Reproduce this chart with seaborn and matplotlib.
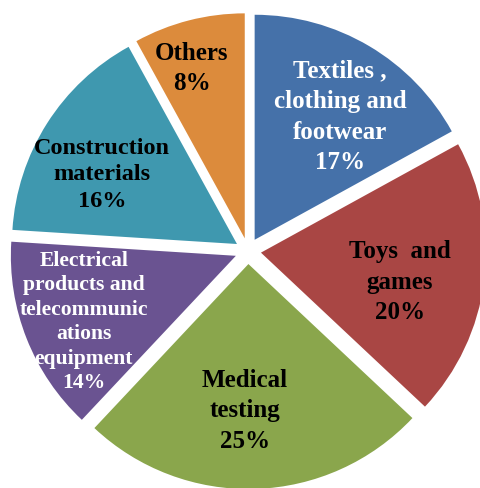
import numpy as np
import matplotlib
matplotlib.use("Agg")
import matplotlib.pyplot as plt
import seaborn as sns

# %%
categories = ["Textiles ,\nclothing and\nfootwear", "Toys  and\ngames", "Medical\ntesting",
              "Electrical\nproducts and\ntelecommunic\nations\nequipment",
              "Construction\nmaterials", "Others"]
shares = [17, 20, 25, 14, 16, 8]

colors = ["#4571A9", "#A94644", "#8AA64C", "#6A5391", "#3F98AF", "#DC8B3C"]
text_colors = ["white", "black", "black", "white", "black", "black"]
font_sizes = [18, 18, 18, 15.6, 17.5, 18]
line_sp = [1.42, 1.42, 1.4, 1.3, 1.35, 1.4]
# label radius / angle shift (deg) from each wedge's own centre
label_r = [0.665, 0.632, 0.653, 0.737, 0.674, 0.789]
label_dt = [-4.2, -4.8, -3.1, 2.0, 5.3, 2.9]

# %%
sns.set_theme(style="white")
plt.rcParams['font.family'] = ['Liberation Serif', 'DejaVu Serif']

fig = plt.figure(figsize=(4.8, 4.88), dpi=100)
ax = fig.add_axes([0, 0, 1, 1])

wedges, _ = ax.pie(
    shares,
    colors=colors,
    startangle=90,
    counterclock=False,
    explode=[0.058] * len(shares),
    radius=1,
    wedgeprops=dict(linewidth=0),
)

for w, lab, val, tc, fs, ls, r, dt in zip(wedges, categories, shares, text_colors,
                                           font_sizes, line_sp, label_r, label_dt):
    mid = np.deg2rad((w.theta1 + w.theta2) / 2 + dt)
    cx, cy = w.center
    ax.text(cx + r * np.cos(mid), cy + r * np.sin(mid), f"{lab}\n{val}%",
            ha="center", va="center", color=tc, fontsize=fs,
            fontweight="bold", linespacing=ls)

ax.set_xlim(-248 / 225, 232 / 225)
ax.set_ylim(-237 / 225, 251 / 225)
ax.set_aspect("auto")
ax.axis("off")

fig.savefig("out.png", dpi=100, facecolor="white")
